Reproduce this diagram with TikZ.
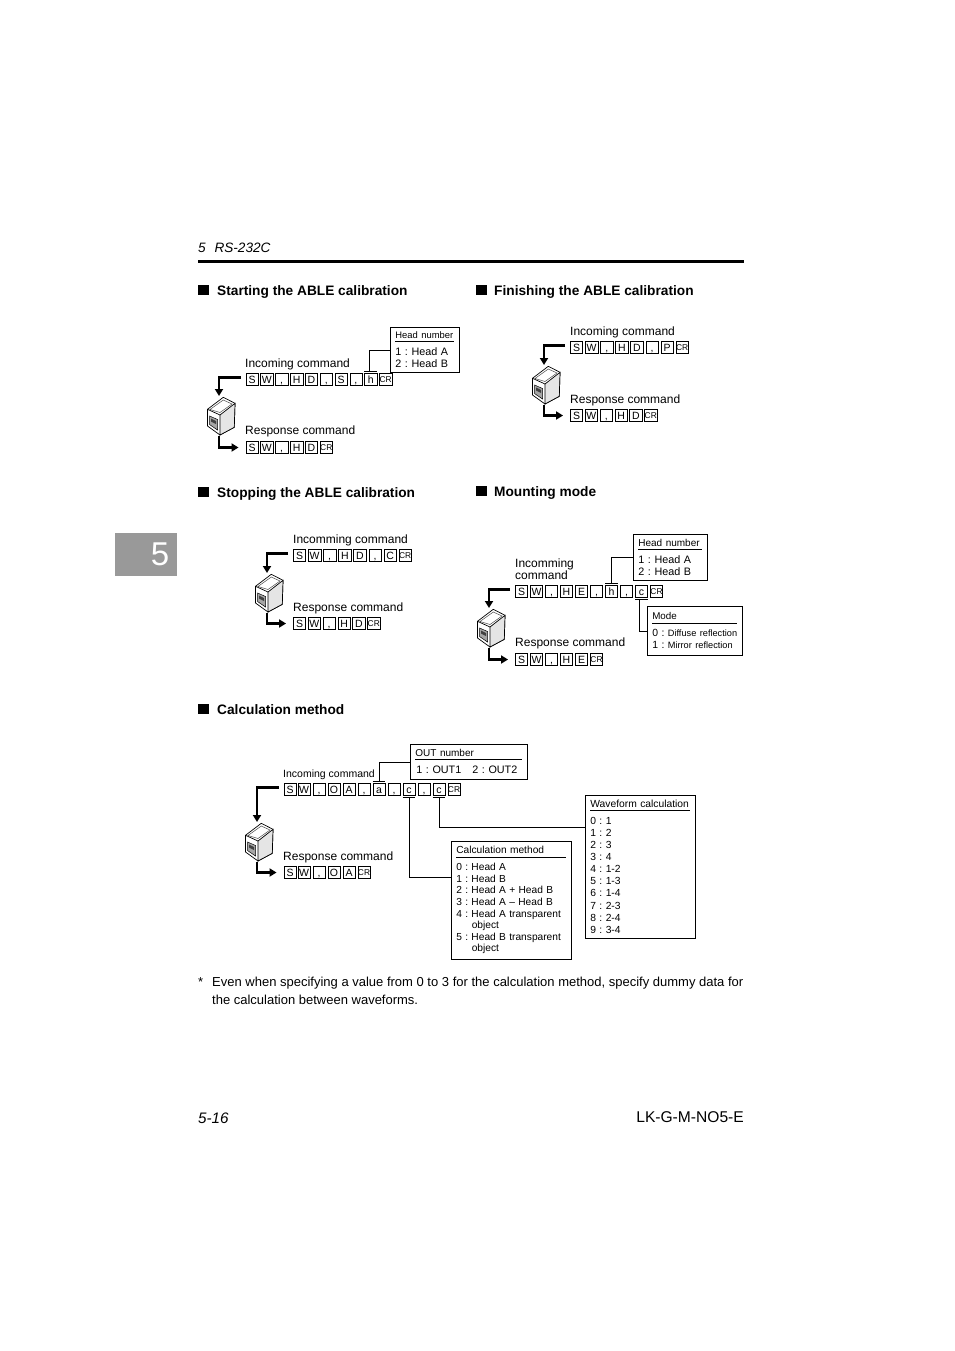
\documentclass[tikz,border=0pt]{standalone}
\usepackage{fontspec}
\usepackage{xcolor}
\setmainfont{Liberation Sans}
\usetikzlibrary{arrows.meta}

\newcommand{\infotitle}[1]{#1\par\nobreak\vspace{2.5pt}\hrule\vspace{6.5pt}}

\tikzset{
  x=1pt, y=-1pt,
  keybox/.style={draw, rectangle, line width=0.5pt, inner sep=0pt, minimum width=12.4pt,
    minimum height=11.6pt, text height=7.5pt, text depth=0pt, font=\fontsize{10.5}{11}\selectfont},
  crbox/.style={keybox, text height=6pt, font=\fontsize{8.4}{9}\selectfont},
  cmdlabel/.style={anchor=base west, inner sep=0pt, font=\fontsize{12}{13}\selectfont},
  headlabel/.style={anchor=base west, inner sep=0pt, font=\bfseries\fontsize{13.7}{15}\selectfont},
  pagetext/.style={anchor=base west, inner sep=0pt, font=\fontsize{13}{14}\selectfont},
  infobox/.style={draw, rectangle, line width=0.6pt, anchor=north west, align=left, inner xsep=5pt,
    inner ysep=0pt, font=\fontsize{10.8}{12}\selectfont},
  stub/.style={line width=0.6pt},
  bigarrow/.style={line width=2.4pt, -{Triangle[length=7pt,width=8pt]}},
  sensor/.pic={
    \coordinate (-in) at (-2,-20);
    \coordinate (-out) at (-2,20);
    % body
    \draw[line width=0.7pt, fill=white, line join=round]
      (-13.5,-6.7) -- (2.3,-18.7) -- (14,-12.7) -- (13.3,11.3) -- (-1,19) -- (-13.5,10) -- cycle;
    \draw[line width=0.7pt, fill=black!10] (-1,-1) -- (14,-12.7) -- (13.3,11.3) -- (-1,19) -- cycle;
    \draw[line width=0.7pt] (-13.5,-6.7) -- (-1,-1);
    \draw[line width=0.5pt, black!70] (-11,-6.5) -- (2.3,-16) -- (11,-12) -- (-1,-3.5) -- cycle;
    % panel
    \draw[line width=0.5pt, fill=black!35] (-11.5,0) -- (-3.5,3.5) -- (-3.5,14) -- (-11.5,8.5) -- cycle;
    \fill[black!75] (-10,2.5) -- (-5,5) -- (-5,8) -- (-10,5.5) -- cycle;
  },
}

\begin{document}
\frenchspacing
\begin{tikzpicture}[node distance=14.85pt]

  \useasboundingbox (0,0) rectangle (954,1351);

  % page furniture
  \node[pagetext, font=\itshape\fontsize{13.6}{15}\selectfont] (hdr) at (198,252) {5\hspace{5pt} RS-232C};
  \draw[line width=2.6pt] (198,261.5) -- (744,261.5);
  \node[rectangle, fill=black!40, minimum width=62pt, minimum height=43pt, inner sep=0pt] (tab) at (146,554.5) {};
  \node[text=white, inner sep=0pt, font=\fontsize{33}{34}\selectfont] (tabnum) at (160,554.5) {5};
  \node[pagetext, font=\itshape\fontsize{15.2}{16}\selectfont] (ftl) at (198,1123) {5-16};
  \node[pagetext, anchor=base east, font=\fontsize{15.6}{17}\selectfont] (ftr) at (744,1122) {LK-G-M-NO5-E};

  % section headings
  \node[headlabel] (h1) at (198,295) {\rule{11pt}{10.5pt}\hspace{8pt}Starting the ABLE calibration};
  \node[headlabel] (h2) at (476,295) {\rule{11pt}{10.5pt}\hspace{7pt}Finishing the ABLE calibration};
  \node[headlabel] (h3) at (198,497) {\rule{11pt}{10.5pt}\hspace{8pt}Stopping the ABLE calibration};
  \node[headlabel] (h4) at (476,496) {\rule{11pt}{10.5pt}\hspace{7pt}Mounting mode};
  \node[headlabel] (h5) at (198,714) {\rule{11pt}{10.5pt}\hspace{8pt}Calculation method};

  % starting
  \node[cmdlabel] (a0) at (245,367) {Incoming command};
  \node[keybox] (a1) at (252,379.5) {S};
  \node[keybox, right of=a1] (a2) {W};
  \node[keybox, right of=a2] (a3) {,};
  \node[keybox, right of=a3] (a4) {H};
  \node[keybox, right of=a4] (a5) {D};
  \node[keybox, right of=a5] (a6) {,};
  \node[keybox, right of=a6] (a7) {S};
  \node[keybox, right of=a7] (a8) {,};
  \node[keybox, right of=a8] (a9) {h};
  \node[crbox, right of=a9] (a10) {CR};
  \node[cmdlabel] (b0) at (245,434) {Response command};
  \node[keybox] (b1) at (252,447.5) {S};
  \node[keybox, right of=b1] (b2) {W};
  \node[keybox, right of=b2] (b3) {,};
  \node[keybox, right of=b3] (b4) {H};
  \node[keybox, right of=b4] (b5) {D};
  \node[crbox, right of=b5] (b6) {CR};
  \pic (s1) at (221,416) {sensor};
  \node[infobox, minimum width=69pt, minimum height=45pt, text width=59pt] (hn1) at (390,327)
    {{\fontsize{9.4}{11}\selectfont\infotitle{Head number}}1 : Head A\\2 : Head B};

  \draw[bigarrow, shorten <=5pt] ([yshift=2pt]a1.west) -| (s1-in);
  \draw[bigarrow, shorten >=7pt] (s1-out) |- (b1.west);
  \draw[stub] ([yshift=2pt]a9.north west) -- ([yshift=2pt]a9.north east);
  \draw[stub] ([yshift=2pt,xshift=-2pt]a9.north) |- (hn1.west);

  % finishing
  \begin{scope}[node distance=15.1pt]
  \node[cmdlabel] (c0) at (570,335) {Incoming command};
  \node[keybox] (c1) at (576.5,347.5) {S};
  \node[keybox, right of=c1] (c2) {W};
  \node[keybox, right of=c2] (c3) {,};
  \node[keybox, right of=c3] (c4) {H};
  \node[keybox, right of=c4] (c5) {D};
  \node[keybox, right of=c5] (c6) {,};
  \node[keybox, right of=c6] (c7) {P};
  \node[crbox, right of=c7] (c8) {CR};
  \end{scope}
  \node[cmdlabel] (d0) at (570,403) {Response command};
  \node[keybox] (d1) at (576.5,415.5) {S};
  \node[keybox, right of=d1] (d2) {W};
  \node[keybox, right of=d2] (d3) {,};
  \node[keybox, right of=d3] (d4) {H};
  \node[keybox, right of=d4] (d5) {D};
  \node[crbox, right of=d5] (d6) {CR};
  \pic (s2) at (546,385) {sensor};

  \draw[bigarrow, shorten <=5pt] ([yshift=2pt]c1.west) -| (s2-in);
  \draw[bigarrow, shorten >=7pt] (s2-out) |- (d1.west);

  % stopping
  \begin{scope}[node distance=15.1pt]
  \node[cmdlabel] (e0) at (293,543) {Incomming command};
  \node[keybox] (e1) at (299.5,555.5) {S};
  \node[keybox, right of=e1] (e2) {W};
  \node[keybox, right of=e2] (e3) {,};
  \node[keybox, right of=e3] (e4) {H};
  \node[keybox, right of=e4] (e5) {D};
  \node[keybox, right of=e5] (e6) {,};
  \node[keybox, right of=e6] (e7) {C};
  \node[crbox, right of=e7] (e8) {CR};
  \end{scope}
  \node[cmdlabel] (f0) at (293,611) {Response command};
  \node[keybox] (f1) at (299.5,623.5) {S};
  \node[keybox, right of=f1] (f2) {W};
  \node[keybox, right of=f2] (f3) {,};
  \node[keybox, right of=f3] (f4) {H};
  \node[keybox, right of=f4] (f5) {D};
  \node[crbox, right of=f5] (f6) {CR};
  \pic (s3) at (269,593) {sensor};

  \draw[bigarrow, shorten <=5pt] ([yshift=2pt]e1.west) -| (s3-in);
  \draw[bigarrow, shorten >=7pt] (s3-out) |- (f1.west);

  % mounting
  \begin{scope}[node distance=15pt]
  \node[cmdlabel, align=left, anchor=north west, font=\fontsize{12}{12}\selectfont] (g0) at (515,559) {Incomming\\command};
  \node[keybox] (g1) at (521.5,591.5) {S};
  \node[keybox, right of=g1] (g2) {W};
  \node[keybox, right of=g2] (g3) {,};
  \node[keybox, right of=g3] (g4) {H};
  \node[keybox, right of=g4] (g5) {E};
  \node[keybox, right of=g5] (g6) {,};
  \node[keybox, right of=g6] (g7) {h};
  \node[keybox, right of=g7] (g8) {,};
  \node[keybox, right of=g8] (g9) {c};
  \node[crbox, right of=g9] (g10) {CR};
  \node[cmdlabel] (k0) at (515,646) {Response command};
  \node[keybox] (k1) at (521.5,659.5) {S};
  \node[keybox, right of=k1] (k2) {W};
  \node[keybox, right of=k2] (k3) {,};
  \node[keybox, right of=k3] (k4) {H};
  \node[keybox, right of=k4] (k5) {E};
  \node[crbox, right of=k5] (k6) {CR};
  \end{scope}
  \pic (s4) at (491,628) {sensor};
  \node[infobox, minimum width=74pt, minimum height=46pt, text width=64pt] (hn2) at (633,534)
    {{\fontsize{10}{11}\selectfont\infotitle{Head number}}1 : Head A\\2 : Head B};
  \node[infobox, minimum width=95pt, minimum height=49pt, text width=85pt, font=\fontsize{10.4}{12}\selectfont] (md) at (647,606)
    {{\fontsize{9.8}{11}\selectfont\infotitle{Mode}}0 : {\fontsize{9.2}{12}\selectfont Diffuse reflection}\\1 : {\fontsize{9.2}{12}\selectfont Mirror reflection}};

  \draw[bigarrow, shorten <=5pt] ([yshift=2pt]g1.west) -| (s4-in);
  \draw[bigarrow, shorten >=7pt] (s4-out) |- (k1.west);
  \draw[stub] ([yshift=2pt]g7.north west) -- ([yshift=2pt]g7.north east);
  \draw[stub] ([yshift=2pt]g7.north) |- (hn2.west);
  \draw[stub] ([yshift=-2pt]g9.south west) -- ([yshift=-2pt]g9.south east);
  \draw[stub] ([yshift=-2pt,xshift=-2pt]g9.south) |- (md.west);

  % calculation
  \begin{scope}[node distance=15pt]
  \node[cmdlabel, font=\fontsize{10.5}{12}\selectfont] (m0) at (283,777) {Incoming command};
  \node[keybox] (m1) at (290,789.5) {S};
  \node[keybox, right of=m1, node distance=14pt] (m2) {W};
  \node[keybox, right of=m2] (m3) {,};
  \node[keybox, right of=m3] (m4) {O};
  \node[keybox, right of=m4] (m5) {A};
  \node[keybox, right of=m5] (m6) {,};
  \node[keybox, right of=m6] (m7) {a};
  \node[keybox, right of=m7] (m8) {,};
  \node[keybox, right of=m8] (m9) {c};
  \node[keybox, right of=m9] (m10) {,};
  \node[keybox, right of=m10] (m11) {c};
  \node[crbox, right of=m11] (m12) {CR};
  \node[cmdlabel] (n0) at (283,860) {Response command};
  \node[keybox] (n1) at (290,872.5) {S};
  \node[keybox, right of=n1, node distance=14pt] (n2) {W};
  \node[keybox, right of=n2] (n3) {,};
  \node[keybox, right of=n3] (n4) {O};
  \node[keybox, right of=n4] (n5) {A};
  \node[crbox, right of=n5] (n6) {CR};
  \end{scope}
  \pic (s5) at (259,842) {sensor};
  \node[infobox, minimum width=117pt, minimum height=35pt, text width=107pt] (ot) at (410,744)
    {{\fontsize{10}{11}\selectfont\infotitle{OUT number}}\hspace*{1pt}1 : OUT1\hspace{11pt}2 : OUT2};
  \node[infobox, minimum width=120pt, minimum height=118pt, text width=110pt,
    font=\fontsize{10}{11.6}\selectfont] (cm) at (451,841)
    {\infotitle{\fontsize{10.2}{11.6}\selectfont Calculation method}0 : Head A\\1 : Head B\\2 : Head A + Head B\\3 : Head A -- Head B\\
     4 : Head A transparent\\\hspace*{15.5pt}object\\5 : Head B transparent\\\hspace*{15.5pt}object};
  \node[infobox, minimum width=110pt, minimum height=143pt, text width=100pt,
    font=\fontsize{10.3}{12.1}\selectfont] (wf) at (585,795)
    {\infotitle{Waveform calculation}0 : 1\\1 : 2\\2 : 3\\3 : 4\\4 : 1-2\\5 : 1-3\\6 : 1-4\\7 : 2-3\\8 : 2-4\\9 : 3-4};

  \draw[bigarrow, shorten <=5pt] ([yshift=2pt]m1.west) -| (s5-in);
  \draw[bigarrow, shorten >=7pt] (s5-out) |- (n1.west);
  \draw[stub] ([yshift=2pt]m7.north west) -- ([yshift=2pt]m7.north east);
  \draw[stub] ([yshift=2pt]m7.north) |- (ot.west);
  \draw[stub] ([yshift=-2pt]m9.south west) -- ([yshift=-2pt]m9.south east);
  \draw[stub] ([yshift=-2pt]m9.south) |- ([yshift=23pt]cm.west);
  \draw[stub] ([yshift=-2pt]m11.south west) -- ([yshift=-2pt]m11.south east);
  \draw[stub] ([yshift=-2pt]m11.south) |- ([yshift=40pt]wf.west);

  % footnote
  \node[pagetext] (fn0) at (198,986) {*};
  \node[pagetext] (fn1) at (212,986) {Even when specifying a value from 0 to 3 for the calculation method, specify dummy data for};
  \node[pagetext] (fn2) at (212,1004) {the calculation between waveforms.};

\end{tikzpicture}
\end{document}
